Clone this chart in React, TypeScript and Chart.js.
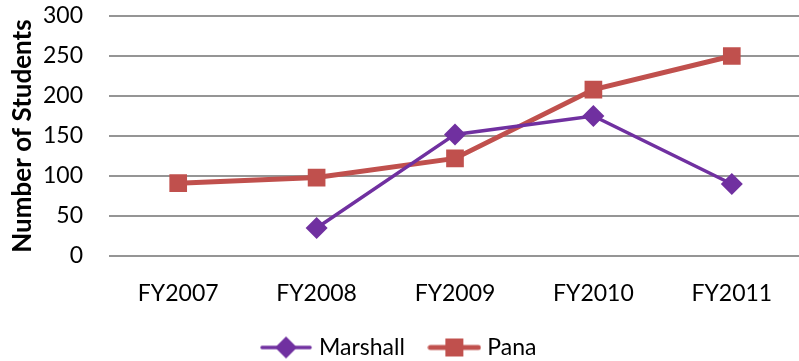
import React, { useEffect, useRef } from "react";
import { Chart, registerables } from "chart.js";

Chart.register(...registerables);

const categories = ["FY2007", "FY2008", "FY2009", "FY2010", "FY2011"];
const marshallValues = [null, 35, 152, 175, 90];
const panaValues = [91, 98, 122, 208, 250];
const yTicks = [0, 50, 100, 150, 200, 250, 300];

const MARSHALL = "#7030A0";
const PANA = "#C0504D";
const FONT = "Lato, 'Open Sans', sans-serif";

function legendImage(color: string, style: "diamond" | "square", lw: number) {
  const c = document.createElement("canvas");
  c.width = 54;
  c.height = 24;
  const ctx = c.getContext("2d")!;
  ctx.strokeStyle = color;
  ctx.lineWidth = lw;
  ctx.lineCap = "round";
  ctx.beginPath();
  ctx.moveTo(3, 12);
  ctx.lineTo(51, 12);
  ctx.stroke();
  ctx.fillStyle = color;
  ctx.beginPath();
  if (style === "diamond") {
    ctx.moveTo(27, 1);
    ctx.lineTo(38, 12);
    ctx.lineTo(27, 23);
    ctx.lineTo(16, 12);
  } else {
    ctx.rect(18, 3, 18, 18);
  }
  ctx.closePath();
  ctx.fill();
  return c;
}

export default function App() {
  const ref = useRef<HTMLCanvasElement>(null);
  useEffect(() => {
    const imgs = [legendImage(MARSHALL, "diamond", 3.5), legendImage(PANA, "square", 5)];
    const chart = new Chart(ref.current!, {
      type: "line",
      data: {
        labels: categories,
        datasets: [
          {
            label: "Marshall",
            data: marshallValues,
            borderColor: MARSHALL,
            backgroundColor: MARSHALL,
            borderWidth: 3.5,
            pointStyle: "rectRot",
            pointRadius: 11,
            pointBorderWidth: 0,
            spanGaps: false,
          },
          {
            label: "Pana",
            data: panaValues,
            borderColor: PANA,
            backgroundColor: PANA,
            borderWidth: 5,
            pointStyle: "rect",
            pointRadius: 12.5,
            pointBorderWidth: 0,
          },
        ],
      },
      options: {
        responsive: false,
        animation: false,
        layout: { autoPadding: false, padding: { left: 0, right: 1, top: 16, bottom: -8 } },
        plugins: {
          tooltip: { enabled: false },
          legend: {
            position: "bottom",
            labels: {
              usePointStyle: true,
              pointStyleWidth: 43,
              color: "#000",
              font: { family: FONT, size: 23 },
              padding: 28,
              generateLabels: (ch: any) =>
                ch.data.datasets.map((ds: any, i: number) => ({
                  text: ds.label,
                  fillStyle: ds.backgroundColor,
                  strokeStyle: ds.borderColor,
                  lineWidth: 0,
                  pointStyle: imgs[i],
                  datasetIndex: i,
                  hidden: false,
                })),
            },
          },
        },
        scales: {
          x: {
            offset: true,
            grid: { display: false, drawTicks: false, offset: false },
            border: { display: false },
            ticks: { color: "#000", font: { family: FONT, size: 23 }, padding: 24 },
            afterFit: (s: any) => {
              s.height = 52;
            },
          },
          y: {
            min: 0,
            max: 300,
            afterBuildTicks: (s: any) => {
              s.ticks = yTicks.map((v) => ({ value: v }));
            },
            grid: { color: "#959595", lineWidth: 2, drawTicks: false },
            border: { display: false },
            ticks: { color: "#000", font: { family: FONT, size: 23 }, padding: 26 },
            title: {
              display: true,
              text: "Number of Students",
              color: "#000",
              font: { family: FONT, size: 26, weight: "bold" },
              padding: { top: 7, bottom: 0 },
            },
            afterFit: (s: any) => {
              s.width = 109;
              s.paddingTop = 0;
              s.paddingBottom = 0;
            },
          },
        },
      },
    });
    return () => chart.destroy();
  }, []);
  return (
    <div style={{ position: "fixed", left: 0, top: 0, width: 799, height: 361, overflow: "hidden", background: "#fff" }}>
      <canvas ref={ref} width={802} height={361} style={{ display: "block" }} />
    </div>
  );
}
